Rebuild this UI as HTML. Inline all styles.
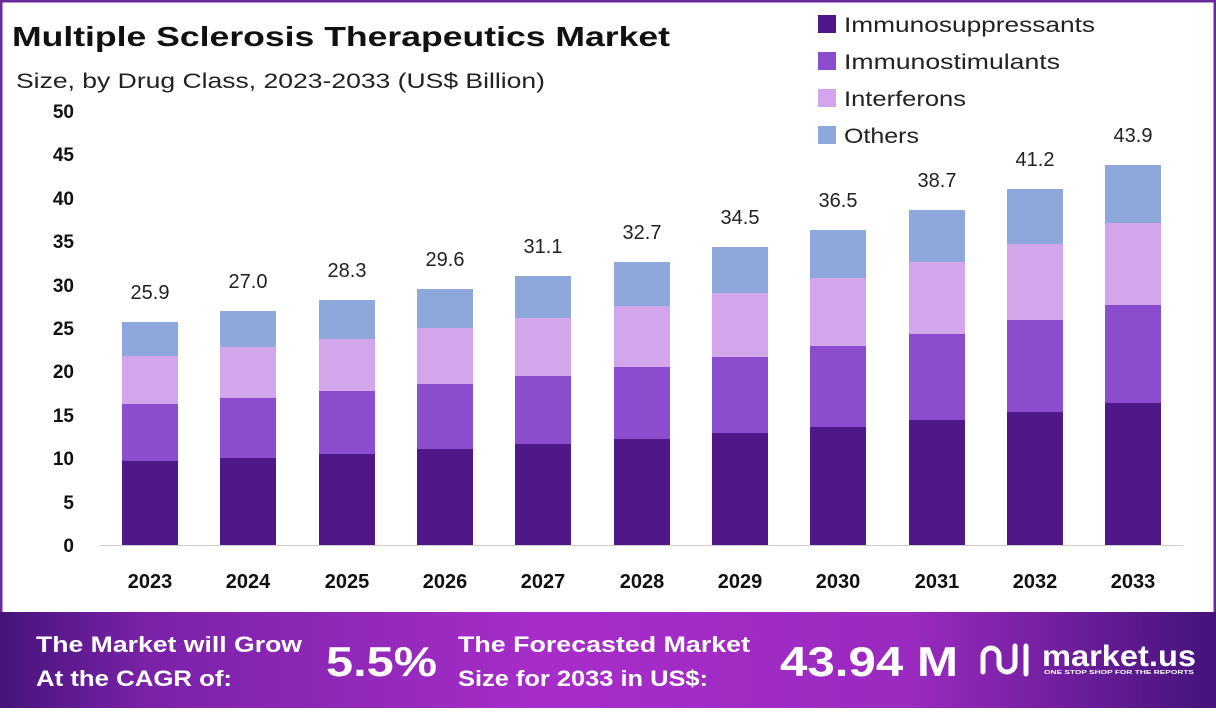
<!DOCTYPE html><html><head><meta charset="utf-8"><style>
body{margin:0;width:1216px;height:708px;overflow:hidden;background:#fff;font-family:"Liberation Sans",sans-serif}
</style></head><body>
<svg width="1216" height="708" xmlns="http://www.w3.org/2000/svg" font-family="Liberation Sans, sans-serif">
<defs><linearGradient id="g" x1="0" x2="1"><stop offset="0" stop-color="#45147a"/><stop offset="0.12" stop-color="#7a22a8"/><stop offset="0.45" stop-color="#a72dc9"/><stop offset="0.75" stop-color="#9a2ac0"/><stop offset="1" stop-color="#44137a"/></linearGradient></defs>
<rect x="0" y="0" width="1216" height="708" fill="#fff"/>
<rect x="1" y="1" width="1214" height="706" fill="none" stroke="#6a2a9a" stroke-width="3"/>
<text x="12" y="46" font-size="28" font-weight="bold" fill="#111" textLength="658" lengthAdjust="spacingAndGlyphs">Multiple Sclerosis Therapeutics Market</text>
<text x="16" y="88" font-size="21" fill="#222" textLength="529" lengthAdjust="spacingAndGlyphs">Size, by Drug Class, 2023-2033 (US$ Billion)</text>
<g font-size="21">
<rect x="818" y="15" width="18" height="18" fill="#4f1787"/><text x="844" y="32" fill="#222" textLength="251" lengthAdjust="spacingAndGlyphs">Immunosuppressants</text>
<rect x="818" y="52" width="18" height="18" fill="#8b4cce"/><text x="844" y="69" fill="#222" textLength="216" lengthAdjust="spacingAndGlyphs">Immunostimulants</text>
<rect x="818" y="89" width="18" height="18" fill="#d3a5ea"/><text x="844" y="106" fill="#222" textLength="122" lengthAdjust="spacingAndGlyphs">Interferons</text>
<rect x="818" y="126" width="18" height="18" fill="#8ea8dc"/><text x="844" y="143" fill="#222" textLength="75" lengthAdjust="spacingAndGlyphs">Others</text>
</g>
<g font-size="19" font-weight="bold" text-anchor="end" fill="#111">
<text x="74" y="118">50</text><text x="74" y="161">45</text><text x="74" y="205">40</text><text x="74" y="248">35</text><text x="74" y="292">30</text><text x="74" y="335">25</text><text x="74" y="378">20</text><text x="74" y="422">15</text><text x="74" y="465">10</text><text x="74" y="509">5</text><text x="74" y="552">0</text>
</g>
<line x1="100" y1="545.5" x2="1183" y2="545.5" stroke="#ccc"/>
<g id="bars">
<rect x="122" y="322" width="56" height="34" fill="#8ea8dc"/><rect x="122" y="356" width="56" height="48" fill="#d3a5ea"/><rect x="122" y="404" width="56" height="57" fill="#8b4cce"/><rect x="122" y="461" width="56" height="84" fill="#4f1787"/>
<rect x="220" y="311" width="56" height="36" fill="#8ea8dc"/><rect x="220" y="347" width="56" height="51" fill="#d3a5ea"/><rect x="220" y="398" width="56" height="60" fill="#8b4cce"/><rect x="220" y="458" width="56" height="87" fill="#4f1787"/>
<rect x="319" y="300" width="56" height="39" fill="#8ea8dc"/><rect x="319" y="339" width="56" height="52" fill="#d3a5ea"/><rect x="319" y="391" width="56" height="63" fill="#8b4cce"/><rect x="319" y="454" width="56" height="91" fill="#4f1787"/>
<rect x="417" y="289" width="56" height="39" fill="#8ea8dc"/><rect x="417" y="328" width="56" height="56" fill="#d3a5ea"/><rect x="417" y="384" width="56" height="65" fill="#8b4cce"/><rect x="417" y="449" width="56" height="96" fill="#4f1787"/>
<rect x="515" y="276" width="56" height="42" fill="#8ea8dc"/><rect x="515" y="318" width="56" height="58" fill="#d3a5ea"/><rect x="515" y="376" width="56" height="68" fill="#8b4cce"/><rect x="515" y="444" width="56" height="101" fill="#4f1787"/>
<rect x="614" y="262" width="56" height="44" fill="#8ea8dc"/><rect x="614" y="306" width="56" height="61" fill="#d3a5ea"/><rect x="614" y="367" width="56" height="72" fill="#8b4cce"/><rect x="614" y="439" width="56" height="106" fill="#4f1787"/>
<rect x="712" y="247" width="56" height="46" fill="#8ea8dc"/><rect x="712" y="293" width="56" height="64" fill="#d3a5ea"/><rect x="712" y="357" width="56" height="76" fill="#8b4cce"/><rect x="712" y="433" width="56" height="112" fill="#4f1787"/>
<rect x="810" y="230" width="56" height="48" fill="#8ea8dc"/><rect x="810" y="278" width="56" height="68" fill="#d3a5ea"/><rect x="810" y="346" width="56" height="81" fill="#8b4cce"/><rect x="810" y="427" width="56" height="118" fill="#4f1787"/>
<rect x="909" y="210" width="56" height="52" fill="#8ea8dc"/><rect x="909" y="262" width="56" height="72" fill="#d3a5ea"/><rect x="909" y="334" width="56" height="86" fill="#8b4cce"/><rect x="909" y="420" width="56" height="125" fill="#4f1787"/>
<rect x="1007" y="189" width="56" height="55" fill="#8ea8dc"/><rect x="1007" y="244" width="56" height="76" fill="#d3a5ea"/><rect x="1007" y="320" width="56" height="92" fill="#8b4cce"/><rect x="1007" y="412" width="56" height="133" fill="#4f1787"/>
<rect x="1105" y="165" width="56" height="58" fill="#8ea8dc"/><rect x="1105" y="223" width="56" height="82" fill="#d3a5ea"/><rect x="1105" y="305" width="56" height="98" fill="#8b4cce"/><rect x="1105" y="403" width="56" height="142" fill="#4f1787"/>
</g>
<g font-size="20" text-anchor="middle" fill="#222">
<text x="150" y="299">25.9</text><text x="248" y="288">27.0</text><text x="347" y="277">28.3</text><text x="445" y="266">29.6</text><text x="543" y="253">31.1</text><text x="642" y="239">32.7</text><text x="740" y="224">34.5</text><text x="838" y="207">36.5</text><text x="937" y="187">38.7</text><text x="1035" y="166">41.2</text><text x="1133" y="142">43.9</text>
</g>
<g font-size="20" font-weight="bold" text-anchor="middle" fill="#111">
<text x="150" y="588">2023</text><text x="248" y="588">2024</text><text x="347" y="588">2025</text><text x="445" y="588">2026</text><text x="543" y="588">2027</text><text x="642" y="588">2028</text><text x="740" y="588">2029</text><text x="838" y="588">2030</text><text x="937" y="588">2031</text><text x="1035" y="588">2032</text><text x="1133" y="588">2033</text>
</g>
<rect x="0" y="612" width="1216" height="96" fill="url(#g)"/>
<g fill="#fff" font-weight="bold">
<text x="36" y="652" font-size="22" textLength="266" lengthAdjust="spacingAndGlyphs">The Market will Grow</text>
<text x="36" y="686" font-size="22" textLength="196" lengthAdjust="spacingAndGlyphs">At the CAGR of:</text>
<text x="326" y="676" font-size="42" textLength="111" lengthAdjust="spacingAndGlyphs">5.5%</text>
<text x="458" y="652" font-size="22" textLength="292" lengthAdjust="spacingAndGlyphs">The Forecasted Market</text>
<text x="458" y="686" font-size="22" textLength="250" lengthAdjust="spacingAndGlyphs">Size for 2033 in US$:</text>
<text x="780" y="676" font-size="42" textLength="178" lengthAdjust="spacingAndGlyphs">43.94 M</text>
<text x="1042" y="666" font-size="30" textLength="154" lengthAdjust="spacingAndGlyphs">market.us</text>
<text x="1044" y="674" font-size="5.5" textLength="150" lengthAdjust="spacingAndGlyphs">ONE STOP SHOP FOR THE REPORTS</text>
</g>
<g fill="none" stroke="#fff" stroke-width="5" stroke-linecap="round">
<path d="M983 672 V656 a8 8 0 0 1 16 0 V664 a8 8 0 0 0 16 0 V646"/><path d="M1026 646 V674"/>
</g>
</svg>
</body></html>
